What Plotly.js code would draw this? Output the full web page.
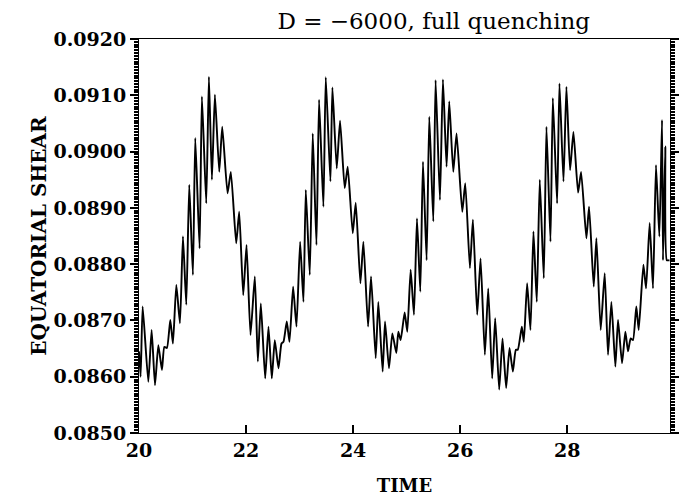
<!DOCTYPE html>
<html>
<head>
<meta charset="utf-8">
<script src="https://cdn.plot.ly/plotly-3.0.1.min.js"></script>
<style>html,body{margin:0;padding:0;background:#fff;}#chart{width:691px;height:496px;}</style>
</head>
<body>
<div id="chart"></div>
<script>
// Time values
const time = [
 20.00, 20.03, 20.068, 20.174, 20.236, 20.299, 20.361, 20.429, 20.473, 20.522,
 20.585, 20.634, 20.697, 20.765, 20.821, 20.883, 20.939, 21.007, 21.051, 21.132,
 21.175, 21.256, 21.306, 21.362, 21.418, 21.499, 21.555, 21.654, 21.716, 21.816,
 21.872, 21.947, 22.009, 22.083, 22.164, 22.220, 22.276, 22.357, 22.419, 22.481,
 22.537, 22.606, 22.662, 22.699, 22.761, 22.811, 22.879, 22.942, 23.010, 23.072,
 23.116, 23.190, 23.246, 23.315, 23.364, 23.445, 23.489, 23.576, 23.613, 23.694,
 23.756, 23.843, 23.899, 23.993, 24.049, 24.136, 24.192, 24.279, 24.335, 24.422,
 24.471, 24.552, 24.596, 24.670, 24.733, 24.807, 24.845, 24.888, 24.963, 25.012,
 25.075, 25.137, 25.193, 25.255, 25.305, 25.373, 25.423, 25.498, 25.541, 25.622,
 25.678, 25.746, 25.796, 25.871, 25.933, 26.039, 26.095, 26.182, 26.238, 26.318,
 26.381, 26.461, 26.524, 26.598, 26.654, 26.729, 26.791, 26.859, 26.922, 26.984,
 27.040, 27.077, 27.152, 27.189, 27.251, 27.313, 27.369, 27.431, 27.487, 27.562,
 27.612, 27.687, 27.731, 27.811, 27.855, 27.930, 27.985, 28.053, 28.116, 28.203,
 28.259, 28.358, 28.408, 28.495, 28.545, 28.625, 28.700, 28.762, 28.825, 28.899,
 28.949, 29.024, 29.086, 29.136, 29.185, 29.229, 29.291, 29.335, 29.423, 29.473,
 29.540, 29.602, 29.658, 29.721, 29.771, 29.789, 29.832, 29.860, 29.910
];
// Equatorial shear values
const shear = [
 0.08645, 0.08600, 0.08725, 0.08591, 0.08683, 0.08585, 0.08656, 0.08612, 0.08653, 0.08651,
 0.08701, 0.08659, 0.08763, 0.08695, 0.08849, 0.08728, 0.08941, 0.08781, 0.09024, 0.08828,
 0.09098, 0.08908, 0.09133, 0.08950, 0.09101, 0.08964, 0.09044, 0.08926, 0.08964, 0.08837,
 0.08893, 0.08745, 0.08834, 0.08674, 0.08778, 0.08627, 0.08730, 0.08597, 0.08689, 0.08597,
 0.08665, 0.08615, 0.08659, 0.08662, 0.08698, 0.08662, 0.08760, 0.08689, 0.08840, 0.08733,
 0.08932, 0.08781, 0.09032, 0.08834, 0.09092, 0.08902, 0.09132, 0.08947, 0.09114, 0.08970,
 0.09055, 0.08935, 0.08973, 0.08855, 0.08909, 0.08766, 0.08840, 0.08689, 0.08778, 0.08633,
 0.08733, 0.08609, 0.08698, 0.08615, 0.08677, 0.08642, 0.08680, 0.08665, 0.08714, 0.08680,
 0.08790, 0.08710, 0.08881, 0.08751, 0.08982, 0.08807, 0.09062, 0.08876, 0.09127, 0.08914,
 0.09128, 0.08973, 0.09089, 0.08964, 0.09032, 0.08893, 0.08944, 0.08793, 0.08879, 0.08710,
 0.08810, 0.08639, 0.08757, 0.08597, 0.08704, 0.08577, 0.08668, 0.08580, 0.08651, 0.08609,
 0.08648, 0.08648, 0.08689, 0.08662, 0.08766, 0.08683, 0.08858, 0.08733, 0.08950, 0.08775,
 0.09044, 0.08840, 0.09095, 0.08908, 0.09121, 0.08947, 0.09115, 0.08967, 0.09035, 0.08927,
 0.08964, 0.08846, 0.08902, 0.08760, 0.08846, 0.08683, 0.08784, 0.08639, 0.08733, 0.08618,
 0.08701, 0.08624, 0.08680, 0.08645, 0.08668, 0.08665, 0.08725, 0.08683, 0.08799, 0.08757,
 0.08873, 0.08757, 0.08976, 0.08849, 0.09056, 0.08807, 0.09009, 0.08807, 0.08807
];
const xTickVals = [20, 22, 24, 26, 28];
const xTickText = ["20", "22", "24", "26", "28"];
const yTickVals = [0.0850, 0.0860, 0.0870, 0.0880, 0.0890, 0.0900, 0.0910, 0.0920];
const yTickText = ["0.0850", "0.0860", "0.0870", "0.0880", "0.0890", "0.0900", "0.0910", "0.0920"];
const xRange = [20, 29.92];
const yRange = [0.0850, 0.0920];

const serif = "DejaVu Serif";
const layout = {
  width: 691, height: 496,
  margin: {l: 139, r: 21, t: 39, b: 63},
  title: {
    text: "D = \u22126000, full quenching",
    font: {family: serif, size: 23, color: "black"},
    x: 0.555, xref: "paper", xanchor: "center",
    y: 0.958, yref: "container", yanchor: "middle"
  },
  xaxis: {
    range: xRange, tickvals: xTickVals, ticktext: xTickText,
    ticks: "inside", ticklen: 8, tickwidth: 2, tickcolor: "black",
    showline: true, linecolor: "black", mirror: true,
    showgrid: false, zeroline: false,
    tickfont: {family: serif, size: 19, color: "black", weight: "bold"},
    title: {text: "TIME", font: {family: serif, size: 18, color: "black", weight: "bold"}}
  },
  yaxis: {
    range: yRange, tickvals: yTickVals, ticktext: yTickText,
    ticks: "outside", ticklen: 8, tickwidth: 2, tickcolor: "black",
    showline: true, linecolor: "black", mirror: "ticks",
    showgrid: false, zeroline: false,
    minor: {dtick: 0.00005, ticks: "outside", ticklen: 4, tickcolor: "black"},
    tickfont: {family: serif, size: 19, color: "black", weight: "bold"},
    title: {text: "EQUATORIAL SHEAR", font: {family: serif, size: 20, color: "black", weight: "bold"}}
  }
};
Plotly.newPlot("chart", [{
  x: time, y: shear, type: "scatter", mode: "lines",
  line: {color: "black", width: 1.9, shape: "spline", smoothing: 0.5}
}], layout, {staticPlot: true});
</script>
</body>
</html>
